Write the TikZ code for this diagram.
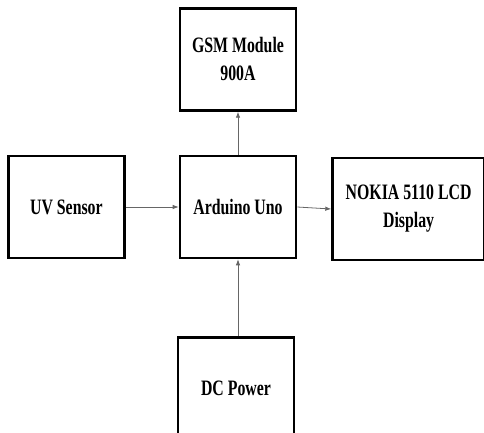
\documentclass[tikz,border=0pt]{standalone}
\usepackage{fontspec}
\setmainfont{Liberation Serif}[FakeStretch=0.72]
\usepackage{tikz}
\usetikzlibrary{arrows.meta, positioning}

\begin{document}
\begin{tikzpicture}[
    x=1pt, y=1pt,
    >={Latex[length=6pt, width=4.5pt]},
    every node/.style={font=\fontsize{22}{28}\selectfont\bfseries},
    block/.style={rectangle, draw=black, line width=2.6pt, minimum width=116pt, minimum height=102pt, align=center, inner sep=2pt},
    wide/.style={block, minimum width=152pt},
    arrow/.style={->, line width=0.8pt, color=black!60},
]
\useasboundingbox (0,0) rectangle (484,-432);

% --- Controller ---
\node[block] (uno) at (238,-207) {Arduino Uno};

% --- Blocks around it ---
\node[block, above=43pt of uno] (gsm) {GSM Module\\900A};
\node[block, left=53pt of uno] (uv) {UV Sensor};
\node[wide, right=34pt of uno, yshift=-2pt] (lcd) {NOKIA 5110 LCD\\Display};
\node[block, below=77pt of uno, xshift=-2pt] (dc) {DC Power};

% --- Arrows ---
\draw[arrow] (uv.east) -- (uno.west);
\draw[arrow] (uno.east) -- (lcd.west);
\draw[arrow] (uno.north) -- (gsm.south);
\draw[arrow] (dc.north -| uno.south) -- (uno.south);

\end{tikzpicture}
\end{document}
